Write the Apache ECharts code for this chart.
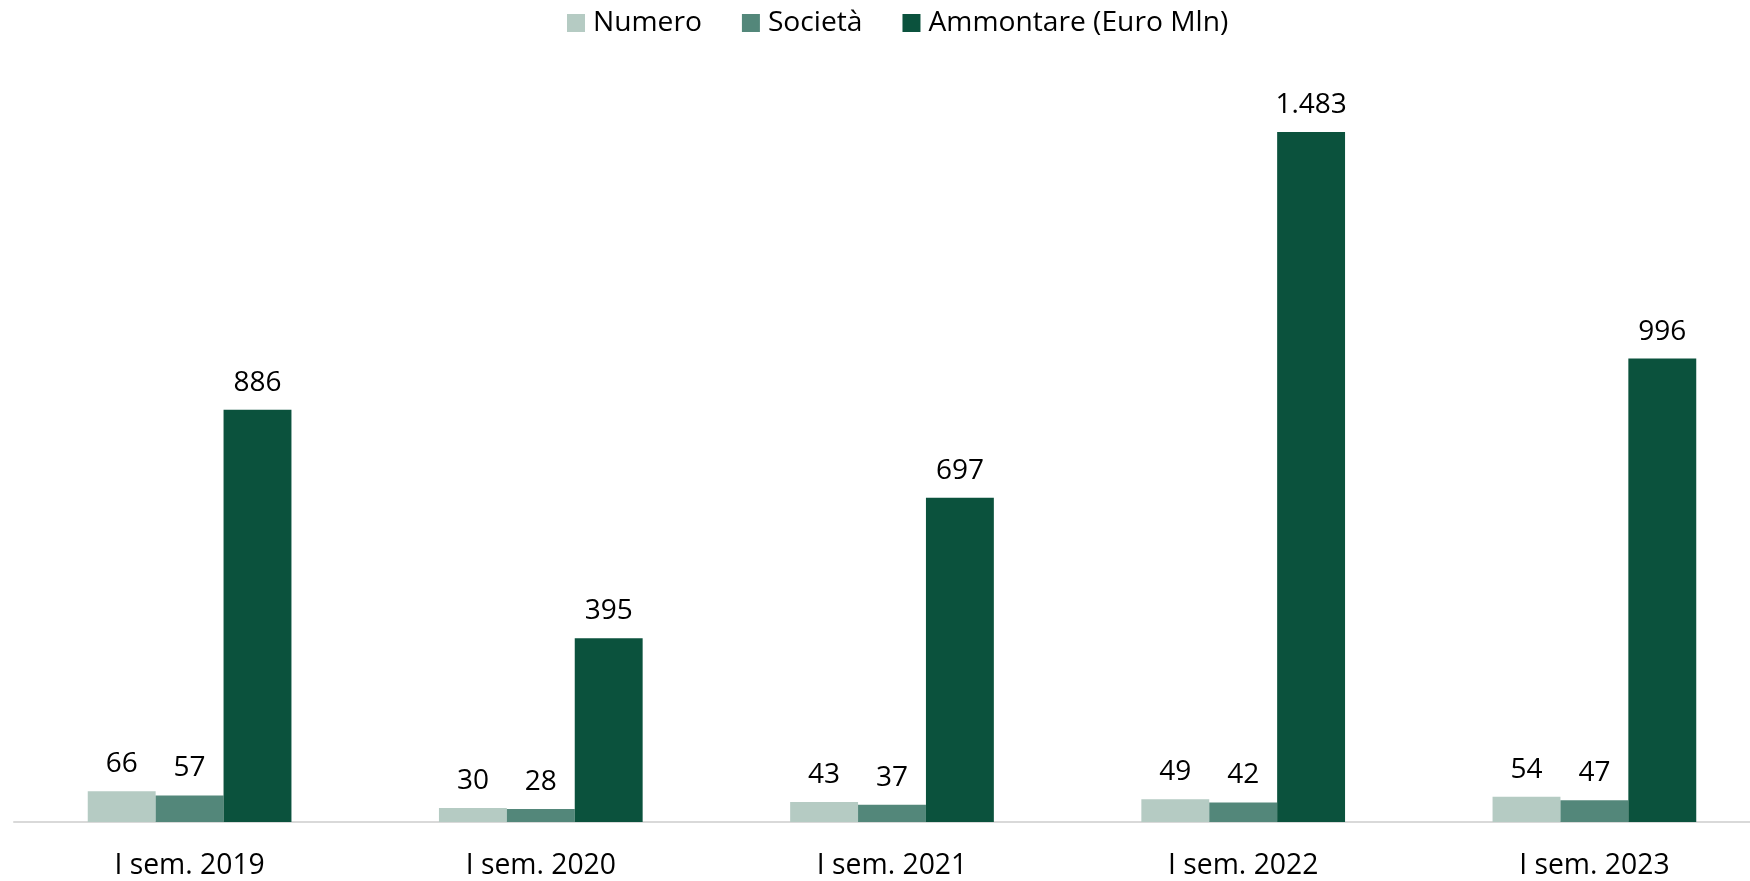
<!DOCTYPE html>
<html lang="it">
<head>
<meta charset="UTF-8">
<title>Operazioni</title>
<script src="https://cdn.jsdelivr.net/npm/echarts@6/dist/echarts.min.js"></script>
<style>
  html, body { margin: 0; padding: 0; background: #fff; }
  #main { width: 1750px; height: 881px; }
</style>
</head>
<body>
<div id="main"></div>
<script>
var categories = ['I sem. 2019', 'I sem. 2020', 'I sem. 2021', 'I sem. 2022', 'I sem. 2023'];
var numero = [66, 30, 43, 49, 54];
var societa = [57, 28, 37, 42, 47];
var ammontare = [886, 395, 697, 1483, 996];

var fontFam = '"Open Sans", "Liberation Sans", sans-serif';

function fmt(v) {
    // separatore migliaia all'italiana
    return String(v).replace(/\B(?=(\d{3})+(?!\d))/g, '.');
}

var labelCfg = {
    show: true,
    position: 'top',
    distance: 13,
    color: '#000',
    fontSize: 28,
    fontFamily: fontFam,
    formatter: function (p) { return fmt(p.value); }
};

var chart = echarts.init(document.getElementById('main'));
chart.setOption({
    animation: false,
    legend: {
        top: 4,
        left: 562,
        itemWidth: 18,
        itemHeight: 18,
        itemGap: 40,
        icon: 'rect',
        textStyle: { fontSize: 28.2, color: '#000', fontFamily: fontFam, padding: [0, 0, 0, 3] }
    },
    grid: { left: 14, width: 1756, top: 77.5, bottom: 59, containLabel: false, outerBoundsMode: 'none' },
    xAxis: {
        type: 'category',
        data: categories,
        axisLine: { lineStyle: { color: '#d9d9d9', width: 2 } },
        axisTick: { show: false },
        axisLabel: { fontSize: 28.3, color: '#000', fontFamily: fontFam, margin: 30 }
    },
    yAxis: {
        type: 'value',
        min: 0,
        max: 1600,
        show: false,
        splitLine: { show: false }
    },
    series: [
        { name: 'Numero', type: 'bar', data: numero, barGap: '0%', barCategoryGap: '42%',
          itemStyle: { color: '#b5cbc3' }, label: labelCfg },
        { name: 'Società', type: 'bar', data: societa, barGap: '0%', barCategoryGap: '42%',
          itemStyle: { color: '#53877a' }, label: labelCfg },
        { name: 'Ammontare (Euro Mln)', type: 'bar', data: ammontare, barGap: '0%', barCategoryGap: '42%',
          itemStyle: { color: '#0b523d' }, label: labelCfg }
    ]
});
</script>
</body>
</html>
